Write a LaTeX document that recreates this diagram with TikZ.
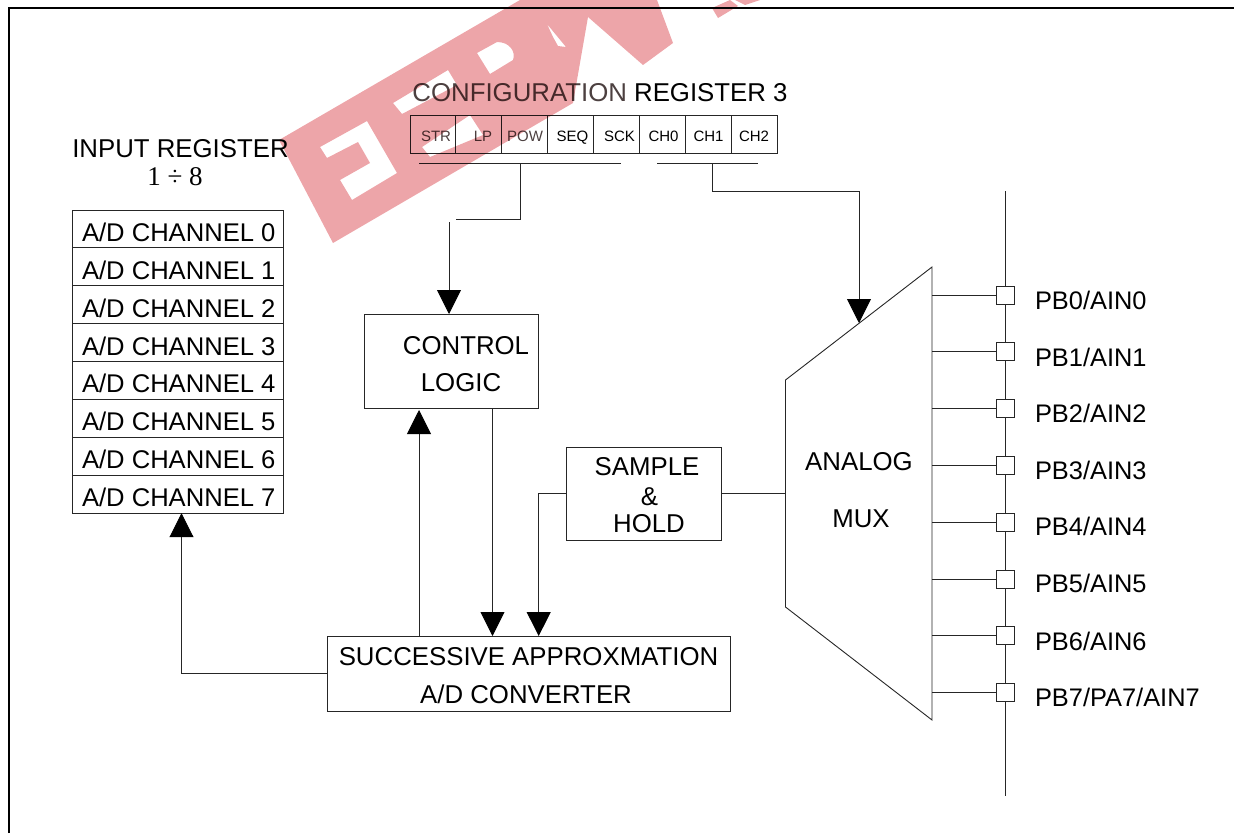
\documentclass[tikz,border=0pt]{standalone}
\usepackage{fontspec}
\setmainfont{Liberation Sans}
\newfontfamily\serifnum{Liberation Serif}
\usetikzlibrary{arrows.meta,calc}
\definecolor{wm}{HTML}{EDA5A9}
\definecolor{fadedtxt}{HTML}{4C4040}
\tikzset{
  ln/.style={line width=0.9pt,draw=black!85},
  arr/.style={ln,-{Triangle[length=24pt,width=24pt,color=black,fill=black]}},
  boxn/.style={ln,rectangle,inner sep=0pt,anchor=north west,outer sep=0pt},
  big/.style={inner sep=0pt,outer sep=0pt,font=\fontsize{25.8}{30}\selectfont},
  rowbox/.style={boxn,minimum width=211pt,minimum height=37.9pt},
  rowlab/.style={inner sep=0pt,outer sep=0pt,anchor=base west,font=\fontsize{25.6}{30}\selectfont},
  cell/.style={boxn,minimum width=45.9pt,minimum height=37.5pt},
  reg/.style={inner sep=0pt,outer sep=0pt,anchor=base,font=\fontsize{15}{18}\selectfont},
  pin/.style={ln,rectangle,inner sep=0pt,minimum size=18pt,outer sep=0pt},
  pinlab/.style={big,anchor=base west,font=\fontsize{25.4}{30}\selectfont},
}
\begin{document}
\begin{tikzpicture}[x=1pt,y=-1pt]
\useasboundingbox (0,0) rectangle (1234,833);
% frame
\coordinate (fbl) at (9,833); \coordinate (ftl) at (9,8); \coordinate (ftr) at (1234,8);
\draw[line width=2.6pt,black] (fbl) -- (ftl) -- (ftr);

% input register
\node[big,anchor=base] (inreg) at (180.5,157.3) {INPUT REGISTER};
\node[inner sep=0pt,anchor=base,font=\serifnum\fontsize{27}{30}\selectfont] (inrange) at (175,185) {1 ÷ 8};
\foreach \i in {0,...,7}{
  \node[rowbox] (ch\i) at (72,{210+37.9*\i}) {};
  \node[rowlab] (chl\i) at (82,{241.7+37.8*\i}) {A/D CHANNEL \i};
}

% configuration register
\node[big,anchor=base] (cfg) at (600,101) {\textcolor{fadedtxt}{CONFIGURATION} REGISTER 3};
\foreach \i/\t/\c/\cx in {0/STR/fadedtxt/436,1/LP/fadedtxt/483,2/POW/fadedtxt/525,3/SEQ/black/572.5,4/SCK/black/619.5,5/CH0/black/663.5,6/CH1/black/708.5,7/CH2/black/754}{
  \node[cell] (bit\i) at ({410+45.9*\i},115.5) {};
  \node[reg,text=\c] (bl\i) at (\cx,141.7) {\t};
}
\coordinate (b1a) at (419,163); \coordinate (b1b) at (621,163);
\coordinate (b2a) at (657,163); \coordinate (b2b) at (758,163);
\draw[ln] (b1a) -- (b1b);
\draw[ln] (b2a) -- (b2b);

% control logic
\node[boxn,minimum width=174pt,minimum height=94pt] (ctl) at (364,314) {};
\node[big,anchor=base] (ctl1) at (466,354.2) {CONTROL};
\node[big,anchor=base] (ctl2) at (461,391) {LOGIC};

% sample and hold
\node[boxn,minimum width=155pt,minimum height=93pt] (sh) at (566,447) {};
\node[big,anchor=base] (sh1) at (647,475.7) {SAMPLE};
\node[big,anchor=base] (sh2) at (649.5,505) {\&};
\node[big,anchor=base] (sh3) at (649,532.7) {HOLD};

% SAR
\node[boxn,minimum width=403pt,minimum height=75pt] (sar) at (327,636) {};
\node[big,anchor=base] (sar1) at (528.5,665.7) {SUCCESSIVE APPROXMATION};
\node[big,anchor=base] (sar2) at (526,703.7) {A/D CONVERTER};

% mux
\coordinate (mA) at (785.5,380); \coordinate (mB) at (932,267);
\coordinate (mC) at (932,720); \coordinate (mD) at (785.5,607);
\draw[ln] (mA) -- (mB) -- (mC) -- (mD) -- cycle;
\node[big,anchor=base] (mux1) at (859,470) {ANALOG};
\node[big,anchor=base] (mux2) at (861,527) {MUX};

% bus and pins
\coordinate (bust) at (1005,191); \coordinate (busb) at (1005,796);
\draw[ln] (bust) -- (busb);
\foreach \i/\t/\py/\by in {0/PB0\slash AIN0/295/309.3,1/PB1\slash AIN1/351.8/366,2/PB2\slash AIN2/408.7/422.3,3/PB3\slash AIN3/465.7/479,4/PB4\slash AIN4/522/535.7,5/PB5\slash AIN5/579/592.7,6/PB6\slash AIN6/635.3/650,7/PB7\slash PA7\slash AIN7/692.3/706}{
  \node[pin,fill=white] (p\i) at (1005,\py) {};
  \node[pinlab] (pl\i) at (1035,\by) {\t};
  \draw[ln] (p\i.west) -- (932,\py);
}

% connectors
\coordinate (c1) at (520,163); \coordinate (c1e) at (456,219.5); \coordinate (c1s) at (449,222);
\draw[ln] (c1) -- (c1 |- c1e) -- (c1e);
\draw[arr] (c1s) -- (c1s |- ctl.north);
\coordinate (c2) at (712,163); \coordinate (c2k) at (712,191); \coordinate (c2t) at (859,323);
\draw[arr] (c2) -- (c2k) -- (c2k -| c2t) -- (c2t);
\coordinate (u1) at (419,0); \coordinate (d1) at (492.5,0); \coordinate (d2) at (538.7,0);
\draw[arr] (u1 |- sar.north) -- ($(u1 |- ctl.south)+(0,2)$);
\draw[arr] (d1 |- ctl.south) -- (d1 |- sar.north);
\draw[arr] (sh.west) -- (d2 |- sh.west) -- (d2 |- sar.north);
\draw[ln] (sh.east) -- (sh.east -| mA);
\coordinate (l1) at (327,673.5); \coordinate (l2) at (181.5,673.5);
\draw[arr] (l1) -- (l2) -- (l2 |- ch7.south);

% watermark
\begin{scope}[blend mode=multiply]
\fill[wm,even odd rule]
  (279,140) -- (520,0) -- (657,0) -- (673,43) -- (643,65) -- (588,17) -- (573,103) -- (333,243) -- cycle
  (320,147) -- (367,121) -- (397,173) -- (352,200) -- (340,180) -- (370,163) -- (358,142) -- (327,158) -- cycle
  (393,103) -- (448,70) -- (457,85) -- (402,114) -- cycle
  (422,147) -- (470,115) -- (483,135) -- (430,157) -- cycle
  (477,53) -- (497,42) .. controls (510,42) and (516,52) .. (513,60) -- (490,74) -- cycle
  (547,24) -- (566,47) -- (558,46) -- (553,37) -- cycle;
\fill[wm] (712,8) -- (730,0) -- (738,6) -- (718,18) -- cycle;
\fill[wm] (735,0) -- (760,0) -- (745,5) -- cycle;
\end{scope}
\end{tikzpicture}
\end{document}
